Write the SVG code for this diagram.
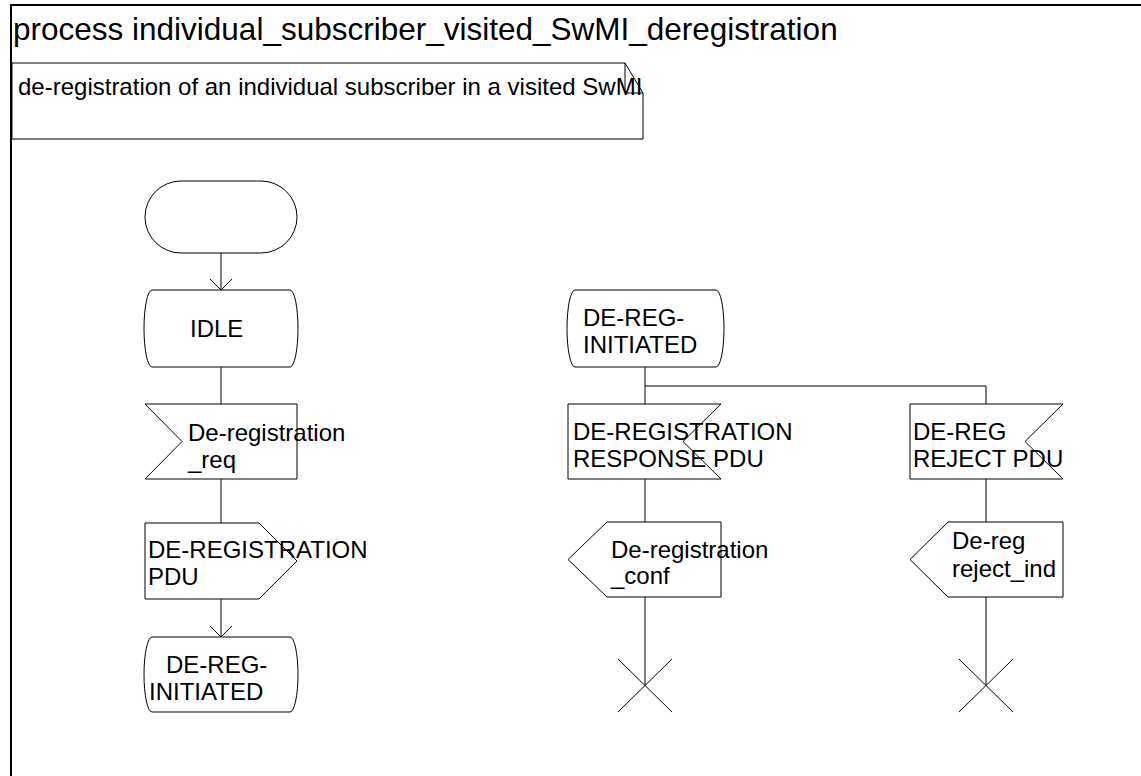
<svg xmlns="http://www.w3.org/2000/svg" width="1141" height="776" viewBox="0 0 1141 776">
<style>
.s{fill:#fff;stroke:#000;stroke-width:1}
.c{fill:none;stroke:#000;stroke-width:1}
.t{font-family:"Liberation Sans",Arial,sans-serif;font-size:24px;fill:#000}
.title{font-family:"Liberation Sans",Arial,sans-serif;font-size:31.5px;fill:#000}
</style>
<rect width="1141" height="776" fill="#fff"/>
<g id="frame">
<path d="M10,5 H1141 M11,5 V776" fill="none" stroke="#000" stroke-width="2"/>
<text class="title" x="13" y="40">process individual_subscriber_visited_SwMI_deregistration</text>
</g>
<g id="comment">
<path class="s" d="M12,63 H625 L643,93 V139 H12 Z"/>
<path class="c" d="M625,63 V93 H643"/>
<text class="t" x="18" y="95">de-registration of an individual subscriber in a visited SwMI</text>
</g>
<g id="connectors">
<path class="c" d="M221,253 V290 M210,279 L221,290 L232,279"/>
<path class="c" d="M221,367 V404"/>
<path class="c" d="M221,479 V523"/>
<path class="c" d="M221,599 V637 M210,626 L221,637 L232,626"/>
<path class="c" d="M645,367 V404 M645,386 H986 V404"/>
<path class="c" d="M645,479 V522"/>
<path class="c" d="M645,597 V685"/>
<path class="c" d="M986,479 V522"/>
<path class="c" d="M986,597 V685"/>
</g>
<g id="start">
<rect class="s" x="145" y="181" width="152" height="72" rx="36" ry="36"/>
</g>
<g id="idle">
<path class="s" d="M152,290 H290 A8,38.5 0 0 1 290,367 H152 A8,38.5 0 0 1 152,290 Z"/>
<text class="t" x="190" y="337">IDLE</text>
</g>
<g id="in_dereg_req">
<path class="s" d="M145,404 H297 V479 H145 L182,441.5 Z"/>
<text class="t" x="188" y="441">De-registration</text>
<text class="t" x="188" y="468">_req</text>
</g>
<g id="out_dereg_pdu">
<path class="s" d="M145,523 H259 L297,561 L259,599 H145 Z"/>
<text class="t" x="148" y="558">DE-REGISTRATION</text>
<text class="t" x="148" y="585">PDU</text>
</g>
<g id="state_dereg_initiated_1">
<path class="s" d="M152,637 H290 A8,37.5 0 0 1 290,712 H152 A8,37.5 0 0 1 152,637 Z"/>
<text class="t" x="166" y="673">DE-REG-</text>
<text class="t" x="149" y="700">INITIATED</text>
</g>
<g id="state_dereg_initiated_2">
<path class="s" d="M575,290 H716 A8,38.5 0 0 1 716,367 H575 A8,38.5 0 0 1 575,290 Z"/>
<text class="t" x="583" y="326">DE-REG-</text>
<text class="t" x="583" y="353">INITIATED</text>
</g>
<g id="in_dereg_response">
<path class="s" d="M568,404 H721 L683,441.5 L721,479 H568 Z"/>
<text class="t" x="573" y="440">DE-REGISTRATION</text>
<text class="t" x="573" y="467">RESPONSE PDU</text>
</g>
<g id="out_dereg_conf">
<path class="s" d="M607,522 H721 V597 H607 L568,559.5 Z"/>
<text class="t" x="611" y="558">De-registration</text>
<text class="t" x="611" y="584">_conf</text>
</g>
<g id="stop_1">
<path class="c" d="M618,659 L672,712 M672,659 L618,712"/>
</g>
<g id="in_dereg_reject">
<path class="s" d="M910,404 H1063 L1025,441.5 L1063,479 H910 Z"/>
<text class="t" x="913" y="440">DE-REG</text>
<text class="t" x="913" y="467">REJECT PDU</text>
</g>
<g id="out_dereg_reject_ind">
<path class="s" d="M948,522 H1063 V597 H948 L910,559.5 Z"/>
<text class="t" x="952" y="549">De-reg</text>
<text class="t" x="952" y="577">reject_ind</text>
</g>
<g id="stop_2">
<path class="c" d="M959,659 L1013,712 M1013,659 L959,712"/>
</g>
</svg>
